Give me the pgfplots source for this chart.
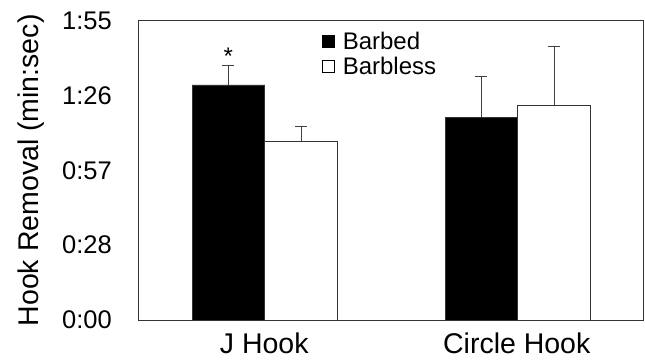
\documentclass[border=0pt]{standalone}
\usepackage{fontspec}
\setmainfont{Liberation Sans}
\usepackage{pgfplots}
\pgfplotsset{compat=1.18}
\begin{document}
\begin{tikzpicture}
\begin{axis}[
  scale only axis, width=505bp, height=299.3bp,
  xmin=0, xmax=2, ymin=0, ymax=115,
  axis line style={draw=black!80, line width=0.8bp},
  ytick=\empty, minor ytick={0,28.75,57.5,86.25,115},
  xtick=\empty, minor xtick={0,1,2},
  tick align=outside, ytick pos=left, xtick pos=bottom,
  minor tick length=10bp,
  tick style={draw=black!80, line width=0.8bp},
  ylabel={Hook Removal (min:sec)},
  ylabel style={font=\fontsize{28.5bp}{32bp}\selectfont, at={(axis description cs:-0.212,0.5)}, anchor=center},
  legend style={at={(axis description cs:0.364,0.97)}, anchor=north west, draw=none, fill=none,
    font=\fontsize{24bp}{26bp}\selectfont, inner sep=0pt, row sep=2bp},
  legend cell align=left,
  legend image code/.code={\draw[#1, draw=black] (0bp,-6bp) rectangle (12bp,6bp); \path (18bp,0bp);},
  error bars/error bar style={draw=black!75, line width=0.8bp},
  error bars/error mark options={draw=black!75, line width=0.8bp, mark size=6bp, rotate=90},
  clip=false,
]
\addplot[ybar, bar width=0.288, bar shift=0pt, fill=black, draw=black!80, line width=0.8bp,
  error bars/.cd, y dir=plus, y explicit]
  coordinates {(0.358,90.3) +- (0,7.5) (1.36,77.9) +- (0,15.7)};
\addlegendentry{Barbed}
\addplot[ybar, bar width=0.288, bar shift=0pt, fill=white, draw=black!80, line width=0.8bp,
  error bars/.cd, y dir=plus, y explicit]
  coordinates {(0.646,68.5) +- (0,5.8) (1.648,82.6) +- (0,22.4)};
\addlegendentry{Barbless}
\node[font=\fontsize{24bp}{26bp}\selectfont] at (axis cs:0.358,101.5) {*};
\begin{scope}[every node/.style={inner sep=0pt, font=\fontsize{25.5bp}{30bp}\selectfont, anchor=east, xshift=-26bp}]
\node at (axis cs:0,0) {0:00};
\node at (axis cs:0,28.75) {0:28};
\node at (axis cs:0,57.5) {0:57};
\node at (axis cs:0,86.25) {1:26};
\node at (axis cs:0,115) {1:55};
\end{scope}
\begin{scope}[every node/.style={inner sep=0pt, font=\fontsize{28.5bp}{32bp}\selectfont, anchor=north, yshift=-13bp}]
\node at (axis cs:0.5,0) {J Hook};
\node at (axis cs:1.5,0) {Circle Hook};
\end{scope}
\end{axis}
\pgfresetboundingbox
\path (-138bp,-44bp) rectangle (507bp,320bp);
\end{tikzpicture}
\end{document}
